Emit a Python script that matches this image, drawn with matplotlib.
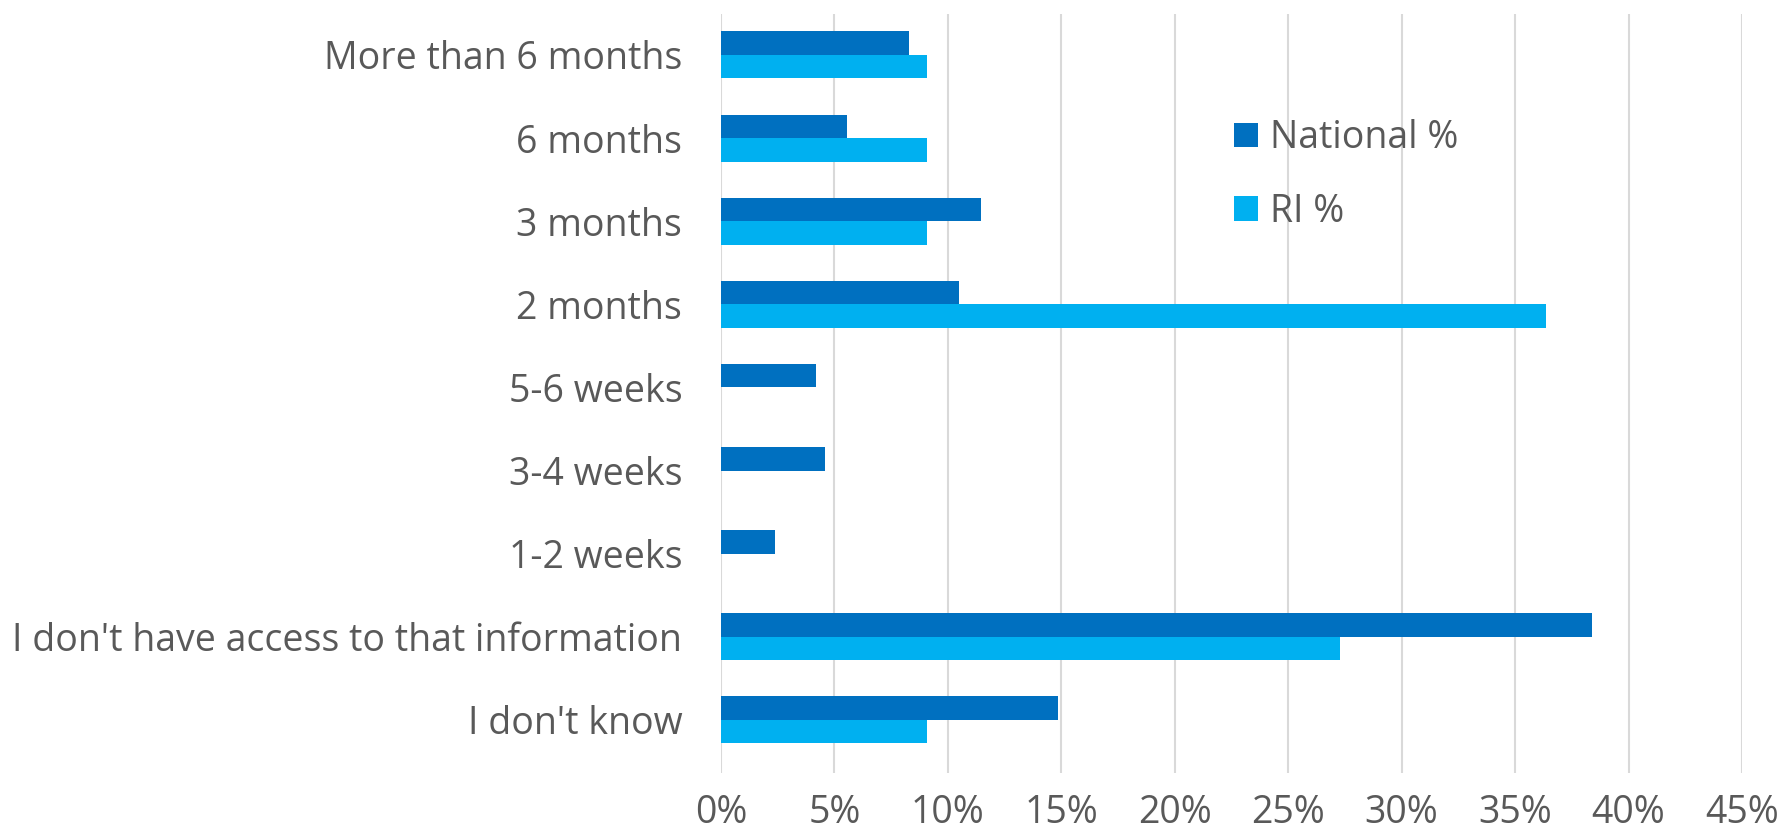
import numpy as np
import matplotlib.pyplot as plt

categories = ["More than 6 months", "6 months", "3 months", "2 months",
              "5-6 weeks", "3-4 weeks", "1-2 weeks",
              "I don't have access to that information", "I don't know"]
national = [8.29, 5.54, 11.47, 10.47, 4.18, 4.56, 2.36, 38.39, 14.85]
ri = [9.09, 9.09, 9.09, 36.36, 0, 0, 0, 27.27, 9.09]
xticks = [0, 5, 10, 15, 20, 25, 30, 35, 40, 45]

plt.rcParams['font.family'] = ['Open Sans', 'DejaVu Sans']
text_color = '#595959'

fig = plt.figure(figsize=(17.83, 8.34), dpi=100)
ax = fig.add_axes([0.4044, 0.073, 0.5726, 0.910])

y = np.arange(len(categories))
h = 0.283
ax.barh(y - h / 2, national, height=h, color='#0070C0', label='National %', zorder=3)
ax.barh(y + h / 2, ri, height=h, color='#00B0F0', label='RI %', zorder=3)

ax.set_ylim(len(categories) - 0.36, -0.49)
ax.set_yticks(y)
ax.set_yticklabels(categories)
ax.set_xlim(0, 45)
ax.set_xticks(xticks)
ax.set_xticklabels([f"{t}%" for t in xticks])

ax.tick_params(axis='both', length=0, labelsize=27, colors=text_color)
ax.tick_params(axis='y', pad=28)
ax.tick_params(axis='x', pad=15)
for s in ax.spines.values():
    s.set_visible(False)
ax.grid(axis='x', color='#d9d9d9', linewidth=1.5, zorder=0)

ax.legend(loc='center left', bbox_to_anchor=(0.502, 0.788), frameon=False,
          fontsize=27, labelcolor=text_color, handlelength=0.64, handleheight=0.64,
          handletextpad=0.34, labelspacing=0.95, borderpad=0, borderaxespad=0)

fig.savefig('out.png', dpi=100)
